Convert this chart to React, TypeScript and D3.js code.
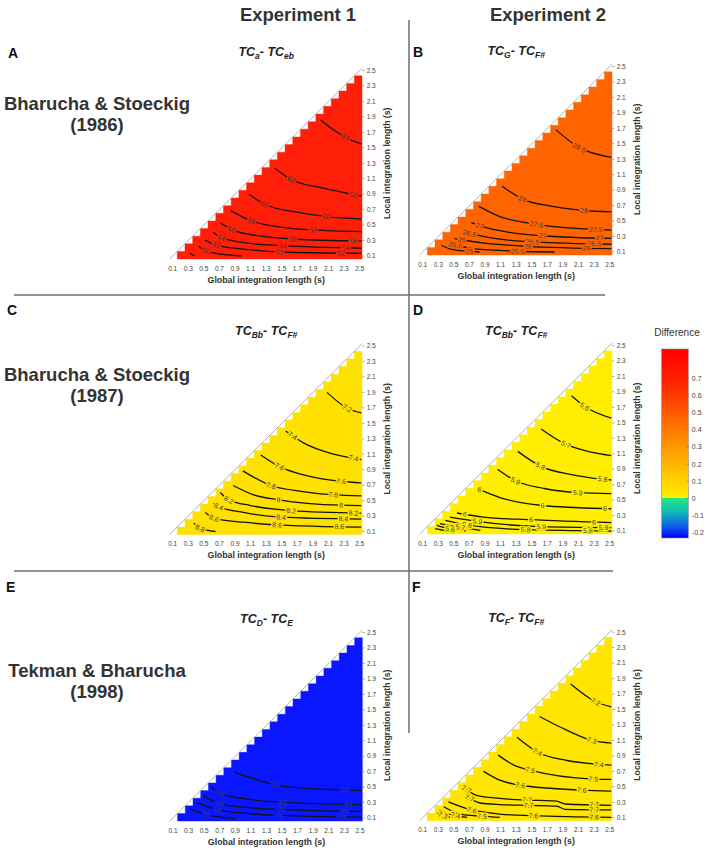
import React from 'react';
import * as d3 from 'd3';

type Pt = [number, number];
interface Contour { v: string; pts: Pt[]; at: number[]; }

// ---------- DATA ----------
const xTicks = [0.1, 0.3, 0.5, 0.7, 0.9, 1.1, 1.3, 1.5, 1.7, 1.9, 2.1, 2.3, 2.5];
const yTicks = [0.1, 0.3, 0.5, 0.7, 0.9, 1.1, 1.3, 1.5, 1.7, 1.9, 2.1, 2.3, 2.5];
const colorbarTicks = [0.7, 0.6, 0.5, 0.4, 0.3, 0.2, 0.1, 0, -0.1, -0.2];

const panelLetters = ['A', 'B', 'C', 'D', 'E', 'F'];
const titleSubs: [string, string][] = [['a', 'eb'], ['G', 'F#'], ['Bb', 'F#'], ['Bb', 'F#'], ['D', 'E'], ['F', 'F#']];
const experiments = ['Experiment 1', 'Experiment 2'];
const studies: [string, string][] = [['Bharucha & Stoeckig', '(1986)'], ['Bharucha & Stoeckig', '(1987)'], ['Tekman & Bharucha', '(1998)']];

const contoursA: Contour[] = [
  { v: '64', pts: [[2.0, 1.86], [2.18, 1.72], [2.35, 1.62], [2.52, 1.55]], at: [2.32] },
  { v: '62', pts: [[1.41, 1.235], [1.62, 1.09], [2.02, 0.98], [2.52, 0.875]], at: [1.62, 2.42] },
  { v: '60', pts: [[1.08, 0.9], [1.28, 0.77], [1.73, 0.66], [2.07, 0.61], [2.52, 0.58]], at: [1.28, 2.07] },
  { v: '58', pts: [[0.845, 0.687], [1.11, 0.553], [1.51, 0.47], [1.9, 0.437], [2.52, 0.415]], at: [1.11, 1.9] },
  { v: '56', pts: [[0.71, 0.53], [0.85, 0.445], [1.21, 0.36], [1.64, 0.32], [2.52, 0.294]], at: [0.85, 1.64, 2.42] },
  { v: '54', pts: [[0.62, 0.406], [0.725, 0.337], [1.09, 0.264], [1.51, 0.234], [2.52, 0.2]], at: [0.725, 1.51, 2.32] },
  { v: '52', pts: [[0.51, 0.307], [0.66, 0.242], [1.04, 0.186], [1.47, 0.152], [2.52, 0.135]], at: [0.66, 1.47, 2.26] },
  { v: '50', pts: [[0.43, 0.23], [0.53, 0.165], [0.75, 0.12], [0.98, 0.1]], at: [0.53] },
  { v: '48', pts: [[0.32, 0.135], [0.38, 0.1]], at: [] },
];
const contoursB: Contour[] = [
  { v: '28.5', pts: [[1.81, 1.68], [2.11, 1.45], [2.52, 1.325]], at: [2.11] },
  { v: '28', pts: [[1.12, 0.95], [1.38, 0.785], [1.77, 0.69], [2.17, 0.637], [2.52, 0.62]], at: [1.38, 2.17] },
  { v: '27.5', pts: [[0.82, 0.69], [1.09, 0.558], [1.56, 0.458], [2.32, 0.392], [2.52, 0.384]], at: [1.56, 2.32] },
  { v: '27', pts: [[0.725, 0.48], [0.83, 0.44], [1.21, 0.353], [1.64, 0.31], [2.52, 0.275]], at: [0.83, 1.64, 2.37] },
  { v: '26.5', pts: [[0.62, 0.362], [0.7, 0.34], [1.09, 0.266], [1.51, 0.23], [2.52, 0.2]], at: [0.7, 1.51, 2.3] },
  { v: '26', pts: [[0.51, 0.275], [0.87, 0.218], [1.43, 0.174], [2.52, 0.144]], at: [0.6, 1.45, 2.2] },
  { v: '25.5', pts: [[0.43, 0.21], [0.75, 0.144], [1.32, 0.11], [1.79, 0.1]], at: [0.52, 1.32] },
  { v: '25', pts: [[0.34, 0.187], [0.49, 0.13], [0.7, 0.11], [0.83, 0.1]], at: [0.7] },
];
const contoursC: Contour[] = [
  { v: '7.2', pts: [[2.08, 1.9], [2.34, 1.695], [2.52, 1.635]], at: [2.34] },
  { v: '7.4', pts: [[1.55, 1.4], [1.79, 1.24], [2.13, 1.11], [2.52, 1.03]], at: [1.64, 2.42] },
  { v: '7.6', pts: [[1.23, 1.09], [1.47, 0.94], [1.83, 0.82], [2.26, 0.75], [2.52, 0.73]], at: [1.47, 2.26] },
  { v: '7.8', pts: [[1.0, 0.885], [1.36, 0.695], [1.75, 0.62], [2.16, 0.576], [2.52, 0.56]], at: [1.36, 2.16] },
  { v: '8', pts: [[0.875, 0.695], [1.14, 0.574], [1.46, 0.51], [2.26, 0.44], [2.52, 0.436]], at: [1.46, 2.26] },
  { v: '8.2', pts: [[0.71, 0.604], [0.82, 0.51], [1.1, 0.436], [1.62, 0.37], [2.52, 0.337]], at: [0.82, 1.62, 2.42] },
  { v: '8.4', pts: [[0.62, 0.466], [0.69, 0.423], [1.01, 0.346], [1.49, 0.285], [2.52, 0.26]], at: [0.69, 1.49, 2.29] },
  { v: '8.6', pts: [[0.52, 0.346], [0.63, 0.27], [1.01, 0.22], [1.44, 0.186], [2.52, 0.156]], at: [0.63, 1.44, 2.24] },
  { v: '8.8', pts: [[0.37, 0.208], [0.45, 0.143], [0.65, 0.1]], at: [0.45] },
];
const contoursD: Contour[] = [
  { v: '5.6', pts: [[2.01, 1.85], [2.18, 1.71], [2.52, 1.56]], at: [2.18] },
  { v: '5.7', pts: [[1.62, 1.42], [1.94, 1.22], [2.22, 1.13], [2.52, 1.075]], at: [1.94] },
  { v: '5.8', pts: [[1.32, 1.13], [1.61, 0.94], [2.01, 0.83], [2.41, 0.77], [2.52, 0.76]], at: [1.61, 2.41] },
  { v: '5.9', pts: [[1.06, 0.9], [1.29, 0.75], [1.66, 0.65], [2.09, 0.596], [2.52, 0.583]], at: [1.29, 2.09] },
  { v: '6', pts: [[0.8, 0.647], [1.1, 0.53], [1.64, 0.43], [2.44, 0.39], [2.52, 0.388]], at: [0.83, 1.64, 2.44] },
  { v: '6', pts: [[0.54, 0.333], [0.88, 0.28], [1.49, 0.246], [2.52, 0.208]], at: [0.64, 1.49, 2.3] },
  { v: '5.9', pts: [[0.45, 0.28], [0.8, 0.225], [1.62, 0.156], [2.52, 0.143]], at: [0.8, 1.62, 2.42] },
  { v: '5.8', pts: [[0.39, 0.238], [0.67, 0.178], [1.42, 0.117], [2.52, 0.1]], at: [0.67, 1.42, 2.22] },
  { v: '5.7', pts: [[0.32, 0.195], [0.58, 0.148], [0.84, 0.109]], at: [0.58] },
  { v: '5.6', pts: [[0.28, 0.173], [0.45, 0.126], [0.65, 0.1]], at: [0.45] },
  { v: '5.5', pts: [[0.26, 0.13], [0.41, 0.1]], at: [] },
];
const contoursE: Contour[] = [
  { v: '22', pts: [[0.89, 0.69], [1.42, 0.53], [1.86, 0.48], [2.52, 0.458]], at: [1.42, 2.3] },
  { v: '21', pts: [[0.59, 0.5], [0.72, 0.416], [1.09, 0.339], [1.51, 0.305], [2.52, 0.272]], at: [0.72, 1.51, 2.35] },
  { v: '20', pts: [[0.49, 0.39], [0.7, 0.286], [1.09, 0.234], [1.49, 0.208], [2.52, 0.185]], at: [0.7, 1.49, 2.3] },
  { v: '19', pts: [[0.42, 0.295], [0.66, 0.208], [1.09, 0.156], [1.45, 0.135], [2.52, 0.112]], at: [0.66, 1.45, 2.26] },
  { v: '18', pts: [[0.31, 0.217], [0.53, 0.143], [0.91, 0.09]], at: [0.53] },
];
const contoursF: Contour[] = [
  { v: '7.2', pts: [[2.0, 1.83], [2.32, 1.6], [2.52, 1.535]], at: [2.32] },
  { v: '7.3', pts: [[1.6, 1.41], [1.87, 1.27], [2.27, 1.1], [2.52, 1.065]], at: [2.27] },
  { v: '7.4', pts: [[1.31, 1.14], [1.57, 0.95], [1.95, 0.84], [2.36, 0.79], [2.52, 0.78]], at: [1.57, 2.36] },
  { v: '7.5', pts: [[1.07, 0.91], [1.27, 0.78], [1.48, 0.715], [2.29, 0.6], [2.52, 0.595]], at: [1.48, 2.29] },
  { v: '7.6', pts: [[0.88, 0.7], [1.09, 0.586], [1.35, 0.52], [2.14, 0.457], [2.52, 0.444]], at: [1.35, 2.14] },
  { v: '7.7', pts: [[0.62, 0.49], [0.79, 0.39], [1.09, 0.35], [1.44, 0.328], [1.82, 0.315], [1.93, 0.277], [2.52, 0.26]], at: [0.66, 1.44, 2.3] },
  { v: '7.7', pts: [[0.67, 0.37], [0.84, 0.29], [1.09, 0.27], [1.46, 0.26], [1.82, 0.25], [1.93, 0.208], [2.52, 0.2]], at: [0.7, 1.46, 2.3] },
  { v: '7.6', pts: [[0.43, 0.306], [0.73, 0.2], [1.09, 0.147], [1.52, 0.126], [2.52, 0.104]], at: [0.73, 1.52, 2.3] },
  { v: '7.5', pts: [[0.37, 0.242], [0.58, 0.147], [0.86, 0.12], [1.09, 0.104]], at: [0.86] },
  { v: '7.4', pts: [[0.31, 0.2], [0.45, 0.143], [0.67, 0.104]], at: [0.52] },
  { v: '7.3', pts: [[0.29, 0.156], [0.45, 0.104]], at: [0.36] },
];
const allContours = [contoursA, contoursB, contoursC, contoursD, contoursE, contoursF];

// colorbar colour stops (value, colour)
const cbStopValues = [0.87, 0.65, 0.45, 0.3, 0.15, 0.02, 0.0, 0.0, -0.08, -0.16, -0.23];
const cbStopColors = ['#ff0000', '#ff2a00', '#ff6a00', '#ff9800', '#ffc400', '#ffe800', '#fff000', '#22e884', '#10b8b8', '#1060e8', '#0000ff'];

// ---------- LAYOUT ----------
const FONT = '"Liberation Sans", Arial, Helvetica, sans-serif';
const PW = 187;
const PH = 185.5;
const GRID_LO = 0.06;
const GRID_HI = 2.53;
const NSTEP = 25;

const panels = [
  { xL: 172.7, yB: 256, fill: '#ff1e08', titleY: 56, letterX: 8, letterY: 58 },
  { xL: 422.7, yB: 252, fill: '#ff6400', titleY: 55, letterX: 413, letterY: 57 },
  { xL: 172.7, yB: 531.5, fill: '#ffe100', titleY: 335, letterX: 7, letterY: 315 },
  { xL: 422.7, yB: 531, fill: '#ffee00', titleY: 335, letterX: 413, letterY: 315 },
  { xL: 173, yB: 818, fill: '#0a16ff', titleY: 623, letterX: 6, letterY: 592 },
  { xL: 422.7, yB: 817.7, fill: '#ffe500', titleY: 622, letterX: 412, letterY: 592 },
];

function interpL(pts: Pt[], g: number): number {
  if (g <= pts[0][0]) return pts[0][1];
  for (let i = 0; i < pts.length - 1; i++) {
    const [g0, l0] = pts[i];
    const [g1, l1] = pts[i + 1];
    if (g >= g0 && g <= g1) return l0 + ((g - g0) / (g1 - g0)) * (l1 - l0);
  }
  return pts[pts.length - 1][1];
}

function stairPts(): Pt[] {
  const w = (GRID_HI - GRID_LO) / NSTEP;
  const pts: Pt[] = [[GRID_LO + w, GRID_LO], [GRID_HI, GRID_LO], [GRID_HI, GRID_LO + (NSTEP - 1) * w]];
  for (let i = NSTEP - 1; i >= 1; i--) {
    pts.push([GRID_LO + i * w, GRID_LO + i * w]);
    pts.push([GRID_LO + i * w, GRID_LO + (i - 1) * w]);
  }
  return pts;
}

function Panel({ idx }: { idx: number }) {
  const cfg = panels[idx];
  const x = d3.scaleLinear().domain([0.1, 2.5]).range([cfg.xL, cfg.xL + PW]);
  const y = d3.scaleLinear().domain([0.1, 2.5]).range([cfg.yB, cfg.yB - PH]);
  const stairs = stairPts();
  const stairPath = d3.line<Pt>().x((d) => x(d[0])).y((d) => y(d[1]))(stairs) + 'Z';
  const triPath = d3.line<Pt>().x((d) => x(d[0])).y((d) => y(d[1]))([[GRID_LO, GRID_LO], [GRID_HI, GRID_LO], [GRID_HI, GRID_HI]]) + 'Z';
  const lineGen = d3.line<Pt>().x((d) => x(d[0])).y((d) => y(d[1])).curve(d3.curveMonotoneX);
  const clipId = `clip${idx}`;
  const cx = (x(0.1) + x(2.5)) / 2;
  const cy = (y(0.1) + y(2.5)) / 2;
  const [s1, s2] = titleSubs[idx];
  const contours = allContours[idx];
  return (
    <g>
      <defs>
        <clipPath id={clipId}><path d={triPath} /></clipPath>
      </defs>
      <path d={stairPath} fill={cfg.fill} stroke={cfg.fill} strokeWidth={0.4} />
      <line x1={x(GRID_LO)} y1={y(GRID_LO)} x2={x(GRID_HI)} y2={y(GRID_HI)} stroke="#a0a0a0" strokeWidth={0.8} />
      <g clipPath={`url(#${clipId})`}>
        {contours.map((c, i) => (
          <path key={i} d={lineGen(c.pts) || ''} fill="none" stroke="#141414" strokeWidth={1.3} />
        ))}
        {contours.map((c, i) =>
          c.at.map((g, j) => {
            const px = x(g);
            const py = y(interpL(c.pts, g));
            const ga = Math.max(c.pts[0][0], g - 0.04);
            const gb = Math.min(c.pts[c.pts.length - 1][0], g + 0.04);
            const ang = (Math.atan2(y(interpL(c.pts, gb)) - y(interpL(c.pts, ga)), x(gb) - x(ga)) * 180) / Math.PI;
            return (
              <text key={`${i}-${j}`} x={px} y={py} transform={`rotate(${ang},${px},${py})`} textAnchor="middle" dominantBaseline="central"
                fontSize={7} fontFamily={FONT} fill="#3c3c3c" stroke={cfg.fill} strokeWidth={3} paintOrder="stroke">{c.v}</text>
            );
          })
        )}
      </g>
      {/* x axis */}
      {xTicks.map((t) => (
        <text key={`x${t}`} x={x(t)} y={cfg.yB + 14.5} textAnchor="middle" fontSize={6.5} fontFamily={FONT} fill="#444">{t.toFixed(1)}</text>
      ))}
      <text x={cx} y={cfg.yB + 26.5} textAnchor="middle" fontSize={8.8} fontWeight="bold" fontFamily={FONT} fill="#333">Global integration length (s)</text>
      {/* y axis */}
      {yTicks.map((t) => (
        <g key={`y${t}`}>
          <line x1={x(GRID_HI)} x2={x(GRID_HI) + 2.5} y1={y(t)} y2={y(t)} stroke="#777" strokeWidth={0.6} />
          <text x={x(2.5) + 7} y={y(t) + 2.3} fontSize={6.5} fontFamily={FONT} fill="#444">{t.toFixed(1)}</text>
        </g>
      ))}
      <text transform={`translate(${x(2.5) + 30},${cy}) rotate(-90)`} textAnchor="middle" fontSize={8.7} fontWeight="bold" fontFamily={FONT} fill="#333">Local integration length (s)</text>
      {/* title */}
      <text x={cx} y={cfg.titleY} textAnchor="middle" fontSize={12.5} fontWeight="bold" fontStyle="italic" fontFamily={FONT} fill="#222">
        <tspan>TC</tspan>
        <tspan fontSize={8.5} dy={3}>{s1}</tspan>
        <tspan dy={-3}>- TC</tspan>
        <tspan fontSize={8.5} dy={3}>{s2}</tspan>
      </text>
      <text x={cfg.letterX} y={cfg.letterY} fontSize={14} fontWeight="bold" fontFamily={FONT} fill="#111">{panelLetters[idx]}</text>
    </g>
  );
}

function Colorbar() {
  const cy = d3.scaleLinear().domain([-0.23, 0.87]).range([538, 349]);
  const x0 = 661.7;
  const w = 26.6;
  const span = 0.87 - -0.23;
  return (
    <g>
      <defs>
        <linearGradient id="cbgrad" x1="0" y1="0" x2="0" y2="1">
          {cbStopValues.map((v, i) => (
            <stop key={i} offset={`${((0.87 - v) / span) * 100}%`} stopColor={cbStopColors[i]} />
          ))}
        </linearGradient>
      </defs>
      <text x={677} y={336} textAnchor="middle" fontSize={10} fontFamily={FONT} fill="#333">Difference</text>
      <rect x={x0} y={cy(0.87)} width={w} height={cy(-0.23) - cy(0.87)} fill="url(#cbgrad)" stroke="#888" strokeWidth={0.6} />
      {colorbarTicks.map((t) => (
        <g key={t}>
          <line x1={x0 + w - 2} x2={x0 + w} y1={cy(t)} y2={cy(t)} stroke="#666" strokeWidth={0.6} />
          <text x={x0 + w + 3.5} y={cy(t) + 2.5} fontSize={7} fontFamily={FONT} fill="#444">{String(t)}</text>
        </g>
      ))}
    </g>
  );
}

export default function App() {
  return (
    <svg width={708} height={850} viewBox="0 0 708 850" style={{ position: 'absolute', left: 0, top: 0, display: 'block', background: '#fff' }}>
      <rect width={708} height={850} fill="#fff" />
      {/* dividers */}
      <line x1={409} y1={20} x2={409} y2={733} stroke="#6e6e6e" strokeWidth={1.5} />
      <line x1={14} y1={295} x2={605} y2={295} stroke="#6e6e6e" strokeWidth={1.5} />
      <line x1={14} y1={571} x2={613} y2={571} stroke="#6e6e6e" strokeWidth={1.5} />
      {/* headers */}
      {experiments.map((e, i) => (
        <text key={e} x={298 + i * 250} y={20.5} textAnchor="middle" fontSize={18.5} fontWeight="bold" fontFamily={FONT} fill="#333">{e}</text>
      ))}
      {studies.map((s, i) => {
        const base = [110, 381, 677][i];
        return (
          <g key={i}>
            <text x={97} y={base} textAnchor="middle" fontSize={18.5} fontWeight="bold" fontFamily={FONT} fill="#333">{s[0]}</text>
            <text x={97} y={base + 20.5} textAnchor="middle" fontSize={18.5} fontWeight="bold" fontFamily={FONT} fill="#333">{s[1]}</text>
          </g>
        );
      })}
      {panels.map((_, i) => <Panel key={i} idx={i} />)}
      <Colorbar />
    </svg>
  );
}
